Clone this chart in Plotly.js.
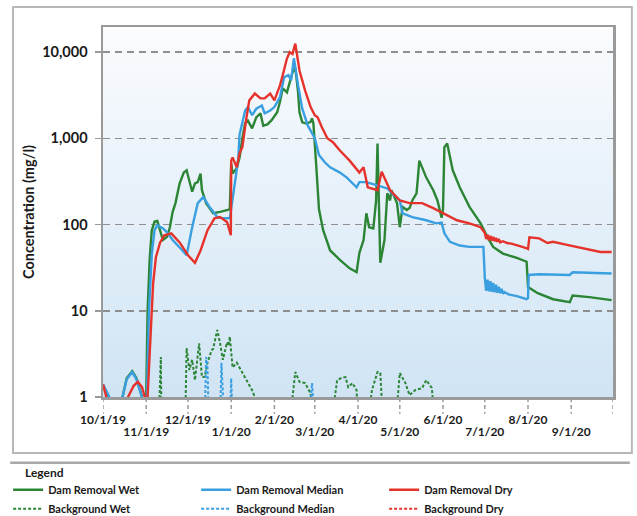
<!DOCTYPE html>
<html>
<head>
<meta charset="utf-8">
<script src="https://cdn.plot.ly/plotly-3.0.1.min.js"></script>
<style>html,body{margin:0;padding:0;background:#fff;}#chart{width:637px;height:516px;}</style>
</head>
<body>
<div id="chart"></div>
<script>
// ---------- data ----------
const seriesNames = ["Dam Removal Wet","Dam Removal Median","Dam Removal Dry","Background Wet","Background Median","Background Dry"];

const wetDates = ["2019-10-01","2019-10-05","2019-10-08","2019-10-13","2019-10-15","2019-10-18","2019-10-22","2019-10-25","2019-10-29","2019-10-31",
"2019-11-01","2019-11-02","2019-11-03 12:00","2019-11-05","2019-11-07","2019-11-09","2019-11-11","2019-11-13","2019-11-16","2019-11-18","2019-11-20","2019-11-22","2019-11-25","2019-11-28","2019-11-30",
"2019-12-02","2019-12-04","2019-12-06","2019-12-08","2019-12-10","2019-12-11","2019-12-14","2019-12-19","2019-12-24","2019-12-30","2019-12-31",
"2020-01-01","2020-01-02","2020-01-05","2020-01-07","2020-01-09","2020-01-11","2020-01-13","2020-01-16","2020-01-19","2020-01-22","2020-01-24","2020-01-27","2020-01-30",
"2020-02-03","2020-02-05","2020-02-07","2020-02-10","2020-02-12","2020-02-14","2020-02-16","2020-02-18","2020-02-19","2020-02-21","2020-02-24","2020-02-27","2020-02-28","2020-02-29",
"2020-03-02","2020-03-04","2020-03-07","2020-03-12","2020-03-19","2020-03-26","2020-03-31",
"2020-04-02","2020-04-05","2020-04-07","2020-04-09","2020-04-12","2020-04-14","2020-04-15","2020-04-17","2020-04-20","2020-04-22","2020-04-24","2020-04-25","2020-04-27","2020-04-29",
"2020-05-01","2020-05-03","2020-05-06","2020-05-08","2020-05-10","2020-05-13","2020-05-14","2020-05-15","2020-05-17","2020-05-20","2020-05-25","2020-05-28","2020-05-31",
"2020-06-01","2020-06-02","2020-06-04","2020-06-08","2020-06-13","2020-06-20","2020-06-28",
"2020-07-03","2020-07-07","2020-07-14","2020-07-24","2020-07-31",
"2020-08-01","2020-08-08","2020-08-19","2020-08-31","2020-09-02","2020-09-14","2020-09-30"];
const wetValues = [1.35,1.0,0.75,0.75,1.0,1.65,2.0,1.65,1.0,0.6,
1.0,10,40,85,108,110,85,66,72,93,140,177,300,400,425,
330,240,300,310,390,250,177,135,140,147,150,
510,390,450,600,1000,1500,1600,1300,1750,1950,1400,1450,1620,
2000,2650,3800,3400,4400,5800,6600,3400,2000,1530,1480,1550,1700,1480,
490,150,86,50,39,31,28,
47,66,135,93,90,190,870,36,66,230,190,250,210,177,
93,160,147,155,190,230,350,550,460,350,250,190,120,
150,790,870,425,270,160,103,
71,55,46,41,37,
18.8,16,13.6,12.6,15,14.4,13.3];

const medDates = ["2019-10-01","2019-10-05","2019-10-08","2019-10-13","2019-10-15","2019-10-18","2019-10-22","2019-10-25","2019-10-29","2019-10-31",
"2019-11-01 12:00","2019-11-03","2019-11-05","2019-11-07","2019-11-09","2019-11-13","2019-11-16","2019-11-20","2019-11-27","2019-11-30",
"2019-12-04","2019-12-08","2019-12-12","2019-12-17","2019-12-22","2019-12-26","2019-12-31",
"2020-01-02","2020-01-05","2020-01-06","2020-01-07","2020-01-11","2020-01-13","2020-01-16","2020-01-19","2020-01-23","2020-01-25","2020-01-29",
"2020-02-01","2020-02-05","2020-02-08","2020-02-11","2020-02-13","2020-02-15","2020-02-18","2020-02-21","2020-02-25",
"2020-03-01","2020-03-04","2020-03-08","2020-03-12","2020-03-19","2020-03-24","2020-03-28","2020-03-31",
"2020-04-02","2020-04-07","2020-04-15","2020-04-22","2020-04-27",
"2020-05-01","2020-05-03","2020-05-10","2020-05-20","2020-05-27","2020-05-31",
"2020-06-02","2020-06-06","2020-06-13","2020-06-20","2020-06-30",
"2020-07-01","2020-07-02","2020-07-03","2020-07-04","2020-07-05","2020-07-06","2020-07-07","2020-07-08","2020-07-09","2020-07-10","2020-07-11","2020-07-12","2020-07-13","2020-07-14","2020-07-15","2020-07-18","2020-07-24","2020-07-31",
"2020-08-01","2020-08-01 12:00","2020-08-09","2020-08-31","2020-09-02","2020-09-30"];
const medValues = [1.4,1.05,0.8,0.75,1.0,1.6,1.95,1.6,1.0,0.6,
1.0,10,45,86,98,90,81,66,50,44,
93,177,208,155,122,118,118,
200,400,560,1100,2100,2300,1850,2200,2400,1950,2100,
2300,3000,5100,5400,4700,8500,4100,2200,1400,
1000,640,530,460,400,350,300,270,
310,310,285,262,218,
190,135,122,112,103,105,
79,63,57,55,55,
24,17,23,16.8,22,16.6,21,16.4,20,16.2,19,16,18,15.8,16.5,15.5,14.8,13.6,
14,26,26.5,26,28,27];

const dryDates = ["2019-10-01","2019-10-03","2019-10-05","2019-10-15","2019-10-19","2019-10-23","2019-10-26","2019-10-29","2019-10-31",
"2019-11-01","2019-11-02","2019-11-05","2019-11-06","2019-11-08","2019-11-11","2019-11-14","2019-11-19","2019-11-25",
"2019-12-01","2019-12-06","2019-12-10","2019-12-15","2019-12-20","2019-12-24","2019-12-29","2019-12-31 18:00",
"2020-01-01","2020-01-02","2020-01-05","2020-01-07","2020-01-09","2020-01-12","2020-01-14","2020-01-18","2020-01-22","2020-01-25","2020-01-29",
"2020-02-01","2020-02-05","2020-02-07","2020-02-10","2020-02-12","2020-02-14","2020-02-16","2020-02-17","2020-02-19","2020-02-23","2020-02-27",
"2020-03-01","2020-03-03","2020-03-06","2020-03-10","2020-03-14","2020-03-19","2020-03-26",
"2020-04-02","2020-04-05","2020-04-08","2020-04-15","2020-04-18","2020-04-24",
"2020-05-01","2020-05-08","2020-05-17","2020-05-25",
"2020-06-01","2020-06-11","2020-06-20","2020-06-28",
"2020-07-01","2020-07-02","2020-07-03","2020-07-04","2020-07-05","2020-07-06","2020-07-07","2020-07-08","2020-07-09","2020-07-10","2020-07-11","2020-07-12","2020-07-14","2020-07-17","2020-07-20","2020-07-24","2020-07-28","2020-07-31",
"2020-08-01","2020-08-02","2020-08-09","2020-08-15","2020-08-19","2020-08-29",
"2020-09-09","2020-09-22","2020-09-30"];
const dryValues = [1.4,1.05,0.8,0.7,1.0,1.35,1.5,1.3,1.0,
0.6,1.0,10,21,42,62,75,79,62,
44,36,50,86,118,122,107,75,
550,600,460,670,790,1750,2750,3300,2900,2900,3300,
2750,4100,5400,8400,10000,9500,12500,9500,6100,3600,2300,
1850,1750,1350,1000,900,720,550,
400,460,270,250,410,250,
190,177,177,155,
135,112,103,93,
80,68,76,66,74,65,72,64,70,63,68,62,64,61,60,58,55,53,
52,71,69,61,63,58,
53,48,48];

const bgWetDates = ["2019-11-10","2019-11-11 12:00","2019-11-12",null,
"2019-11-29","2019-11-30","2019-12-02","2019-12-04","2019-12-06","2019-12-07","2019-12-09","2019-12-11","2019-12-13","2019-12-15","2019-12-18","2019-12-19","2019-12-22","2019-12-24","2019-12-26","2019-12-29","2019-12-30","2019-12-31",
"2020-01-02","2020-01-05","2020-01-09","2020-01-12","2020-01-16","2020-01-19",null,
"2020-02-12","2020-02-16","2020-02-19","2020-02-23","2020-02-27","2020-02-28",null,
"2020-03-13","2020-03-17","2020-03-20","2020-03-23","2020-03-25","2020-03-28","2020-03-31","2020-04-01",null,
"2020-04-08","2020-04-11","2020-04-15","2020-04-17","2020-04-19",null,
"2020-04-28","2020-05-01","2020-05-05","2020-05-08","2020-05-12","2020-05-17","2020-05-20","2020-05-24","2020-05-26"];
const bgWetValues = [0.5,2.9,0.5,null,
0.5,3.7,2.05,2.7,1.57,2.2,4.2,1.7,1.7,2.5,3.5,3.6,6.0,4.2,2.7,4.3,3.9,5.0,
2.2,2.5,1.9,1.57,1.2,0.9,null,
0.5,1.95,1.5,1.45,1.1,0.5,null,
0.5,1.57,1.66,1.7,1.3,1.45,1.2,0.5,null,
0.5,1.2,1.95,1.9,0.5,null,
0.5,1.9,1.45,1.05,1.2,1.27,1.57,1.27,0.5];

const bgMedDates = ["2019-12-13","2019-12-14","2019-12-15","2019-12-16",null,
"2019-12-24","2019-12-25","2019-12-27",null,
"2019-12-31","2020-01-01","2020-01-02",null,
"2020-02-26","2020-02-28","2020-03-01"];
const bgMedValues = [0.5,2.9,2.2,0.5,null,
0.5,2.5,0.5,null,
0.5,1.65,0.5,null,
0.5,1.45,0.5];

// background dry stays below the 1 mg/l axis floor (not visible in the chart)
const bgDryDates = ["2019-10-01","2020-09-30"];
const bgDryValues = [0.5,0.5];

// month ticks, labels staggered on two rows
const upperTicks = ["2019-10-01","2019-12-01","2020-02-01","2020-04-01","2020-06-01","2020-08-01"];
const upperLabels = ["10/1/19","12/1/19","2/1/20","4/1/20","6/1/20","8/1/20"];
const lowerTicks = ["2019-11-01","2020-01-01","2020-03-01","2020-05-01","2020-07-01","2020-09-01"];
const lowerLabels = ["11/1/19","1/1/20","3/1/20","5/1/20","7/1/20","9/1/20"];
const tickMarks = ["2019-10-01","2019-11-01","2019-12-01","2020-01-01","2020-02-01","2020-03-01","2020-04-01","2020-05-01","2020-06-01","2020-07-01","2020-08-01","2020-09-01","2020-10-01"];
const yTicks = [1,10,100,1000,10000];
const yLabels = ["1","10","100","1,000","10,000"];

// ---------- styling ----------
const GREEN = "#2b8535", BLUE = "#3a9fe0", RED = "#e5322b";
const FONT = "Lato, Liberation Sans, Arial, sans-serif";
const TXT = "#1a1a1a";

function tr(x, y, name, color, dotted, rank, xa) {
  return {
    type: "scatter", mode: "lines", x: x, y: y, name: name, xaxis: xa || "x",
    connectgaps: false, legendrank: rank, hoverinfo: "skip",
    line: {color: color, width: dotted ? 2 : 2.4, dash: dotted ? "3px,2px" : "solid"}
  };
}

const data = [
  tr(bgDryDates, bgDryValues, seriesNames[5], RED, true, 6, "x2"),
  tr(bgWetDates, bgWetValues, seriesNames[3], GREEN, true, 4),
  tr(bgMedDates, bgMedValues, seriesNames[4], BLUE, true, 5),
  tr(wetDates, wetValues, seriesNames[0], GREEN, false, 1),
  tr(medDates, medValues, seriesNames[1], BLUE, false, 2),
  tr(dryDates, dryValues, seriesNames[2], RED, false, 3)
];

const shapes = [];
// plot-area vertical gradient (white top -> light blue bottom)
const N = 48;
for (let i = 0; i < N; i++) {
  const f = i / (N - 1);
  const r = Math.round(250 - f * 42), g = Math.round(252 - f * 24), b = Math.round(254 - f * 10);
  shapes.push({type: "rect", xref: "paper", yref: "paper", x0: 0, x1: 1,
    y0: 1 - (i + 1) / N, y1: 1 - i / N + 0.002, line: {width: 0},
    fillcolor: `rgb(${r},${g},${b})`, layer: "below"});
}
// dashed month tick marks below the axis
tickMarks.forEach(d => shapes.push({type: "line", xref: "x", yref: "paper", x0: d, x1: d,
  y0: -0.003, y1: -0.045, line: {color: "#9a9a9a", width: 1.5, dash: "4px,3px"}}));
// outer chart frame
shapes.push({type: "rect", xref: "paper", yref: "paper", x0: -0.1765, x1: 1.037, y0: -0.1514, y1: 1.054,
  line: {color: "#b8b8b8", width: 2}, fillcolor: "rgba(0,0,0,0)"});
// separator above legend
shapes.push({type: "line", xref: "paper", yref: "paper", x0: -0.182, x1: 1.033, y0: -0.178, y1: -0.178,
  line: {color: "#a8a8a8", width: 2.5}});

const tickFontX = {family: FONT, size: 12, weight: "bold", color: TXT};

const layout = {
  width: 637, height: 516,
  margin: {l: 103, r: 24, t: 27, b: 119, pad: 0, autoexpand: false},
  paper_bgcolor: "#ffffff", plot_bgcolor: "rgba(0,0,0,0)",
  font: {family: FONT, size: 12, color: TXT},
  showlegend: true,
  xaxis: {
    type: "date", range: ["2019-10-01", "2020-10-01"], automargin: false,
    tickmode: "array", tickvals: upperTicks, ticktext: upperLabels, tickangle: 0,
    ticks: "outside", ticklen: 10, tickcolor: "rgba(0,0,0,0)",
    tickfont: tickFontX,
    showgrid: false, zeroline: false,
    showline: true, linecolor: "#9a9a9a", linewidth: 2.5, mirror: true
  },
  xaxis2: {
    type: "date", matches: "x", overlaying: "x", anchor: "y", side: "bottom", automargin: false,
    tickmode: "array", tickvals: lowerTicks, ticktext: lowerLabels, tickangle: 0,
    ticks: "outside", ticklen: 24, tickcolor: "rgba(0,0,0,0)",
    tickfont: tickFontX,
    showgrid: false, zeroline: false, showline: false
  },
  yaxis: {
    type: "log", range: [0, 4.29], automargin: false,
    tickmode: "array", tickvals: yTicks, ticktext: yLabels,
    ticks: "outside", ticklen: 6, tickcolor: "#9a9a9a", tickwidth: 1.5, ticklabelstandoff: 4,
    tickfont: {family: FONT, size: 14.5, weight: "bold", color: TXT},
    showgrid: true, gridcolor: "#8f8f8f", gridwidth: 1.5, griddash: "7px,5px",
    zeroline: false,
    showline: true, linecolor: "#9a9a9a", linewidth: 2.5, mirror: true,
    title: {text: "Concentration (mg/l)", standoff: 4,
      font: {family: FONT, size: 14.5, weight: "bold", color: TXT}}
  },
  legend: {
    orientation: "h", x: -0.186, xanchor: "left", y: -0.2115, yanchor: "top",
    entrywidth: 143, entrywidthmode: "pixels",
    bgcolor: "rgba(0,0,0,0)", borderwidth: 0,
    font: {family: FONT, size: 11, weight: "bold", color: TXT},
    tracegroupgap: 0, itemwidth: 30
  },
  annotations: [{text: "Legend", xref: "paper", yref: "paper", x: -0.156, y: -0.203,
    xanchor: "left", yanchor: "middle", showarrow: false,
    font: {family: FONT, size: 12, weight: "bold", color: TXT}}],
  shapes: shapes
};

Plotly.newPlot("chart", data, layout, {staticPlot: true, displayModeBar: false});
</script>
</body>
</html>
